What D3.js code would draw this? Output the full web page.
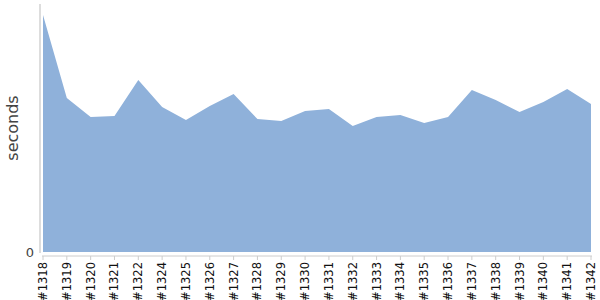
<!DOCTYPE html>
<html>
<head>
<meta charset="utf-8">
<script src="https://cdn.jsdelivr.net/npm/d3@7"></script>
<style>
  body { margin: 0; background: #fff; }
  svg { display: block; font-family: "DejaVu Sans", sans-serif; }
</style>
</head>
<body>
<svg id="chart" width="600" height="300"></svg>
<script>
// === Data ===
const builds = ['#1318', '#1319', '#1320', '#1321', '#1322', '#1324', '#1325', '#1326',
  '#1327', '#1328', '#1329', '#1330', '#1331', '#1332', '#1333', '#1334', '#1335',
  '#1336', '#1337', '#1338', '#1339', '#1340', '#1341', '#1342'];
const seconds = [23.7, 15.4, 13.5, 13.6, 17.2, 14.5, 13.2, 14.6, 15.8, 13.3, 13.1, 14.1,
  14.3, 12.6, 13.5, 13.7, 12.9, 13.5, 16.2, 15.2, 14.0, 15.0, 16.3, 14.8];
const yTicks = [0];

// === Layout ===
const svg = d3.select('#chart');
const axisX = 40, plotTop = 4, plotBottom = 252;

const x = d3.scalePoint().domain(builds).range([43, 591]);
const y = d3.scaleLinear().domain([0, 24.8]).range([plotBottom, plotTop]);

const data = builds.map((b, i) => ({ b, v: seconds[i] }));

// area
svg.append('path')
  .datum(data)
  .attr('fill', '#8fb1da')
  .attr('d', d3.area()
    .x(d => x(d.b))
    .y0(y(0))
    .y1(d => y(d.v)));

// y axis line
svg.append('line')
  .attr('x1', axisX).attr('x2', axisX)
  .attr('y1', plotTop).attr('y2', plotBottom + 1)
  .attr('stroke', '#bbb');

svg.selectAll('.ytick')
  .data(yTicks)
  .join('text')
  .attr('x', axisX - 6)
  .attr('y', d => y(d) + 1)
  .attr('text-anchor', 'end')
  .attr('dominant-baseline', 'middle')
  .attr('font-size', 13)
  .attr('fill', '#444')
  .text(d => d);

// y title
svg.append('text')
  .attr('transform', `translate(18,${(plotTop + plotBottom) / 2}) rotate(-90)`)
  .attr('text-anchor', 'middle')
  .attr('font-size', 16)
  .attr('fill', '#444')
  .text('seconds');

// x axis
const xg = svg.append('g').attr('transform', 'translate(0,256)');
xg.append('line')
  .attr('x1', 42).attr('x2', 592)
  .attr('stroke', '#ccc');
xg.selectAll('.tick')
  .data(builds)
  .join('line')
  .attr('x1', d => x(d)).attr('x2', d => x(d))
  .attr('y1', 0).attr('y2', 4)
  .attr('stroke', '#ccc');
xg.selectAll('.lbl')
  .data(builds)
  .join('text')
  .attr('transform', d => `translate(${x(d) + 4},6) rotate(-90)`)
  .attr('text-anchor', 'end')
  .attr('font-size', 11.5)
  .attr('fill', '#111')
  .text(d => d);
</script>
</body>
</html>
